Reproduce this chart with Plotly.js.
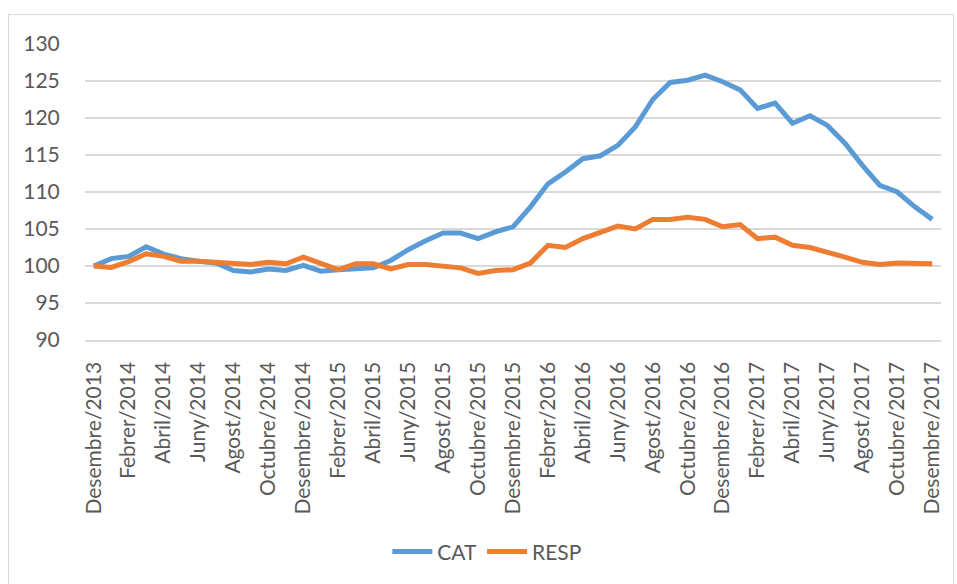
<!DOCTYPE html>
<html>
<head>
<meta charset="utf-8">
<script src="https://cdn.plot.ly/plotly-3.0.1.min.js"></script>
<style>
  html, body { margin: 0; padding: 0; background: #ffffff; }
  #frame { position: absolute; left: 8px; top: 14px; width: 946px; height: 600px; border: 1.5px solid #d9d9d9; box-sizing: border-box; }
  #chart { position: absolute; left: 0; top: 0; width: 957px; height: 584px; }
</style>
</head>
<body>
<div id="frame"></div>
<div id="chart"></div>
<script>
// Category labels (Catalan month names, Desembre/2013 .. Desembre/2017)
const monthNames = ["Gener","Febrer","Març","Abril","Maig","Juny","Juliol","Agost","Setembre","Octubre","Novembre","Desembre"];
const startYear = 2013, startMonth = 11, nMonths = 49;
const categories = [];
for (let i = 0; i < nMonths; i++) {
  const m = (startMonth + i) % 12;
  const y = startYear + Math.floor((startMonth + i) / 12);
  categories.push(monthNames[m] + "/" + y);
}

const catValues = [100, 101.0, 101.3, 102.6, 101.6, 101.0, 100.65, 100.4, 99.4, 99.2,
  99.6, 99.4, 100.1, 99.3, 99.5, 99.6, 99.75, 100.75, 102.2, 103.4,
  104.45, 104.45, 103.7, 104.6, 105.3, 108.0, 111.1, 112.7, 114.5, 114.9,
  116.3, 118.8, 122.5, 124.8, 125.1, 125.8, 124.9, 123.8, 121.3, 122.0,
  119.3, 120.3, 119.0, 116.6, 113.6, 110.9, 110.0, 108.0, 106.3];

const respValues = [100, 99.8, 100.6, 101.65, 101.3, 100.65, 100.65, 100.5, 100.2, 100.2,
  100.5, 100.3, 101.2, 100.3, 99.5, 100.3, 100.3, 99.6, 100.2, 100.2,
  99.9, 99.75, 99.0, 99.4, 99.5, 100.4, 102.8, 102.5, 103.7, 104.6,
  105.4, 105.0, 106.3, 106.3, 106.6, 106.3, 105.3, 105.6, 103.7, 103.9,
  102.8, 102.5, 101.9, 101.2, 100.5, 100.2, 100.4, 100.4, 100.3];

const shownTicks = categories.filter((c, i) => i % 2 === 0);

const textColor = "#595959";
const fontFamily = "Lato, 'Open Sans', sans-serif";

const traces = [
  { x: categories, y: catValues, name: "CAT", type: "scatter", mode: "lines",
    line: { color: "#5B9BD5", width: 5 } },
  { x: categories, y: respValues, name: "RESP", type: "scatter", mode: "lines",
    line: { color: "#ED7D31", width: 5 } }
];

const layout = {
  width: 957, height: 584,
  margin: { l: 85, r: 16, t: 44, b: 244, pad: 0 },
  paper_bgcolor: "rgba(0,0,0,0)",
  plot_bgcolor: "rgba(0,0,0,0)",
  font: { family: fontFamily, color: textColor, size: 21 },
  showlegend: true,
  legend: {
    orientation: "h", x: 0.47, xanchor: "center", y: -0.716, yanchor: "middle",
    font: { size: 21, color: textColor }, itemwidth: 40, traceorder: "normal"
  },
  xaxis: {
    type: "category", categoryorder: "array", categoryarray: categories,
    range: [-0.5, nMonths - 0.5],
    tickmode: "array", tickvals: shownTicks, ticktext: shownTicks,
    tickangle: -90, ticks: "outside", ticklen: 12, tickcolor: "rgba(0,0,0,0)",
    showgrid: false, showline: true, linecolor: "#d9d9d9", linewidth: 1.5,
    tickfont: { size: 21, color: textColor }, zeroline: false, fixedrange: true
  },
  yaxis: {
    range: [90, 130], tickmode: "linear", tick0: 90, dtick: 5,
    showgrid: true, gridcolor: "#d9d9d9", gridwidth: 1.5,
    ticks: "outside", ticklen: 20, tickcolor: "rgba(0,0,0,0)",
    showline: false, zeroline: false,
    tickfont: { size: 21, color: textColor }, fixedrange: true
  }
};

Plotly.newPlot("chart", traces, layout, { displayModeBar: false, staticPlot: true });
</script>
</body>
</html>
